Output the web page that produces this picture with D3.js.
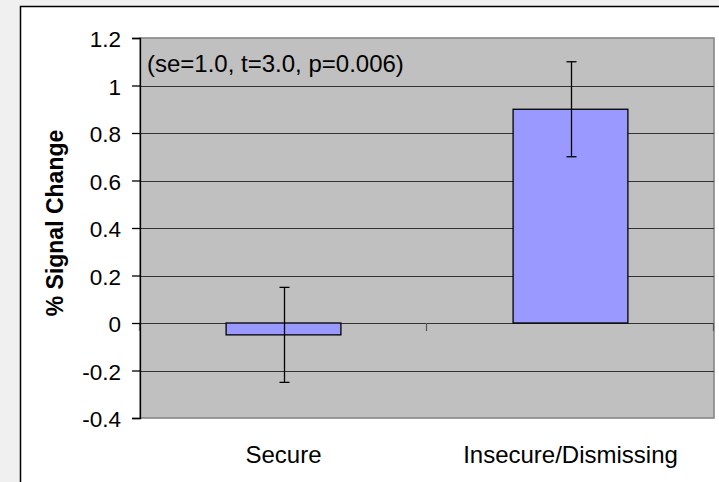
<!DOCTYPE html>
<html>
<head>
<meta charset="utf-8">
<script src="https://cdn.jsdelivr.net/npm/d3@7/dist/d3.min.js"></script>
<style>
  html, body { margin: 0; padding: 0; background: #f0f0f0; }
  svg { display: block; }
  text { font-family: "Liberation Sans", Arial, sans-serif; fill: #000; }
</style>
</head>
<body>
<svg id="chart" width="719" height="482"></svg>
<script>
const categories = ["Secure", "Insecure/Dismissing"];
const values = [-0.05, 0.9];
const errors = [0.2, 0.2];
const yTicks = [-0.4, -0.2, 0, 0.2, 0.4, 0.6, 0.8, 1.0, 1.2];
const yTickLabels = ["-0.4", "-0.2", "0", "0.2", "0.4", "0.6", "0.8", "1", "1.2"];
const yTitle = "% Signal Change";
const annotation = "(se=1.0, t=3.0, p=0.006)";

const svg = d3.select("#chart");
const W = 719, H = 482;
const plot = { left: 140, right: 714, top: 38, bottom: 418 };

// chart area (white with border)
svg.append("rect")
  .attr("x", 20.5).attr("y", 6.5)
  .attr("width", W + 10).attr("height", H + 10)
  .attr("fill", "#ffffff").attr("stroke", "#000").attr("stroke-width", 1.5);

const y = d3.scaleLinear().domain([-0.4, 1.2]).range([plot.bottom, plot.top]);
const x = d3.scaleBand().domain(categories).range([plot.left, plot.right])
  .paddingInner(0.6).paddingOuter(0.3);

// plot background
svg.append("rect")
  .attr("x", plot.left).attr("y", plot.top)
  .attr("width", plot.right - plot.left).attr("height", plot.bottom - plot.top)
  .attr("fill", "#c0c0c0").attr("stroke", "#808080").attr("stroke-width", 1.5);

// gridlines
svg.append("g").selectAll("line")
  .data(yTicks.filter(d => d > -0.4 && d < 1.2))
  .join("line")
  .attr("x1", plot.left).attr("x2", plot.right)
  .attr("y1", d => Math.round(y(d)) + 0.5).attr("y2", d => Math.round(y(d)) + 0.5)
  .attr("stroke", "#333").attr("stroke-width", 1.2);

// x-axis category boundary ticks at zero line
const step = x.step();
const boundaries = d3.range(categories.length + 1).map(i => plot.left + i * step);
svg.append("g").selectAll("line")
  .data(boundaries)
  .join("line")
  .attr("x1", d => Math.round(d) - 0.5).attr("x2", d => Math.round(d) - 0.5)
  .attr("y1", y(0)).attr("y2", y(0) + 8)
  .attr("stroke", "#555").attr("stroke-width", 1.2);

// bars
const data = categories.map((c, i) => ({ c, v: values[i], e: errors[i] }));
svg.append("g").selectAll("rect")
  .data(data)
  .join("rect")
  .attr("x", d => x(d.c))
  .attr("width", x.bandwidth())
  .attr("y", d => y(Math.max(0, d.v)))
  .attr("height", d => Math.abs(y(d.v) - y(0)))
  .attr("fill", "#9999ff").attr("stroke", "#000").attr("stroke-width", 1.3);

// error bars
const eb = svg.append("g").attr("stroke", "#000").attr("stroke-width", 1.3);
data.forEach(d => {
  const cx = Math.round(x(d.c) + x.bandwidth() / 2) + 0.5;
  eb.append("line").attr("x1", cx).attr("x2", cx)
    .attr("y1", y(d.v + d.e)).attr("y2", y(d.v - d.e));
  [d.v + d.e, d.v - d.e].forEach(t => {
    eb.append("line").attr("x1", cx - 5).attr("x2", cx + 5)
      .attr("y1", y(t)).attr("y2", y(t));
  });
});

// y axis
const yAxis = d3.axisLeft(y)
  .tickValues(yTicks)
  .tickFormat((d, i) => yTickLabels[i])
  .tickSize(8)
  .tickPadding(11);
const gy = svg.append("g").attr("transform", `translate(${plot.left},0)`).call(yAxis);
gy.attr("font-size", null).attr("font-family", null);
gy.select(".domain").attr("stroke", "#000").attr("stroke-width", 1.3);
gy.selectAll(".tick line").attr("stroke", "#000").attr("stroke-width", 1.3);
gy.selectAll(".tick text")
  .style("font-family", "'Liberation Sans', Arial, sans-serif")
  .style("font-size", "22.5px").attr("fill", "#000").attr("dy", "0.38em");

// category labels
svg.append("g").selectAll("text")
  .data(categories)
  .join("text")
  .attr("x", d => x(d) + x.bandwidth() / 2)
  .attr("y", 463)
  .attr("text-anchor", "middle")
  .style("font-size", "24px")
  .text(d => d);

// y title
svg.append("text")
  .attr("transform", `translate(63,223) rotate(-90)`)
  .attr("text-anchor", "middle")
  .style("font-size", "23px")
  .attr("font-weight", "bold")
  .text(yTitle);

// annotation
svg.append("text")
  .attr("x", 147).attr("y", 72)
  .style("font-size", "24px")
  .text(annotation);
</script>
</body>
</html>
